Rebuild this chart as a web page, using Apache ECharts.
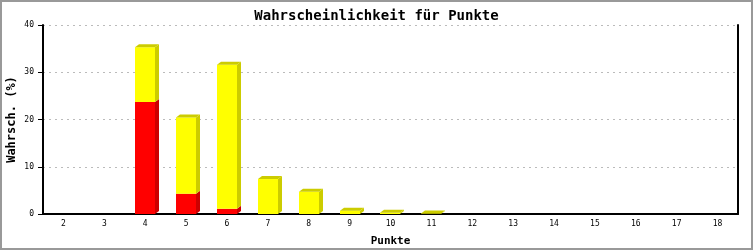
<!DOCTYPE html>
<html>
<head>
<meta charset="utf-8">
<script src="https://cdn.jsdelivr.net/npm/echarts@6/dist/echarts.min.js"></script>
<style>
html,body{margin:0;padding:0;background:#fff;}
#c{width:753px;height:250px;}
</style>
</head>
<body>
<div id="c"></div>
<script>
const categories = ['2','3','4','5','6','7','8','9','10','11','12','13','14','15','16','17','18'];
const redValues = [0, 0, 23.7, 4.3, 1.1, 0, 0, 0, 0, 0, 0, 0, 0, 0, 0, 0, 0];
const yellowValues = [0, 0, 11.6, 16.1, 30.5, 7.4, 4.7, 0.7, 0.25, 0.1, 0, 0, 0, 0, 0, 0, 0];
const yTicks = [0, 10, 20, 30, 40];

const chart = echarts.init(document.getElementById('c'), null, {renderer: 'canvas'});
const mono = 'DejaVu Sans Mono';
const D = 4;

function renderItem(params, api) {
  const i = api.value(0), r = api.value(1), yv = api.value(2);
  if (r + yv <= 0) return {type: 'group', children: []};
  const base = api.coord([i, 0]);
  const band = api.size([1, 0])[0];
  const w = Math.round(band * 0.48);
  const x0 = Math.round(base[0] - w / 2), x1 = x0 + w;
  const yB = base[1];
  const yR = api.coord([i, r])[1];
  const yT = api.coord([i, r + yv])[1];
  const ch = [];
  function seg(top, bot, front, dark) {
    ch.push({type: 'polygon', shape: {points: [[x1, top], [x1 + D, top - D + 1], [x1 + D, bot - D + 1], [x1, bot]]}, style: {fill: dark}});
    ch.push({type: 'rect', shape: {x: x0, y: top, width: w, height: bot - top}, style: {fill: front}});
  }
  if (r > 0) seg(yR, yB, '#ff0000', '#cc0000');
  if (yv > 0) seg(yT, yR, '#ffff00', '#cccc00');
  const topDark = yv > 0 ? '#cccc00' : '#cc0000';
  ch.push({type: 'polygon', shape: {points: [[x0, yT], [x0 + D, yT - D + 1], [x1 + D, yT - D + 1], [x1, yT]]}, style: {fill: topDark}});
  return {type: 'group', children: ch};
}

const data = categories.map((c, i) => [i, redValues[i], yellowValues[i]]);

chart.setOption({
  animation: false,
  backgroundColor: '#fff',
  title: {
    text: 'Wahrscheinlichkeit für Punkte',
    left: 'center', top: 4,
    textStyle: {fontFamily: mono, fontWeight: 'bold', fontSize: 14, color: '#000'}
  },
  graphic: [{
    type: 'rect', shape: {x: 1, y: 1, width: 751, height: 248},
    style: {fill: 'none', stroke: '#999', lineWidth: 2}, silent: true
  }],
  grid: {left: 43, right: 15, top: 25, bottom: 36, containLabel: false, outerBoundsMode: 'none'},
  xAxis: {
    type: 'category', data: categories, boundaryGap: true,
    name: 'Punkte', nameLocation: 'middle', nameGap: 22,
    nameTextStyle: {fontFamily: mono, fontWeight: 'bold', fontSize: 11, color: '#000'},
    axisLine: {lineStyle: {color: '#000', width: 2}},
    axisTick: {show: false},
    axisLabel: {fontFamily: mono, fontSize: 8, color: '#000', margin: 6}
  },
  yAxis: [{
    type: 'value', min: 0, max: 40, interval: 10,
    name: 'Wahrsch. (%)', nameLocation: 'middle', nameGap: 25, nameRotate: 90,
    nameMoveOverlap: false,
    nameTextStyle: {fontFamily: mono, fontWeight: 'bold', fontSize: 12, color: '#000'},
    axisLine: {show: true, lineStyle: {color: '#000', width: 2}},
    axisTick: {show: true, length: 5, lineStyle: {color: '#000'}},
    axisLabel: {fontFamily: mono, fontSize: 8, color: '#000', margin: 9,
      formatter: v => yTicks.includes(v) ? String(v) : ''},
    splitLine: {show: true, lineStyle: {color: '#bbb', type: [2, 4], width: 1}}
  }, {
    type: 'value', min: 0, max: 40, interval: 10, position: 'right',
    axisLine: {show: true, lineStyle: {color: '#000', width: 2}},
    axisTick: {show: false}, axisLabel: {show: false}, splitLine: {show: false}
  }],
  series: [{
    type: 'custom', renderItem: renderItem, data: data,
    encode: {x: 0, y: [1, 2]}, clip: false, z: 3
  }]
});
</script>
</body>
</html>
